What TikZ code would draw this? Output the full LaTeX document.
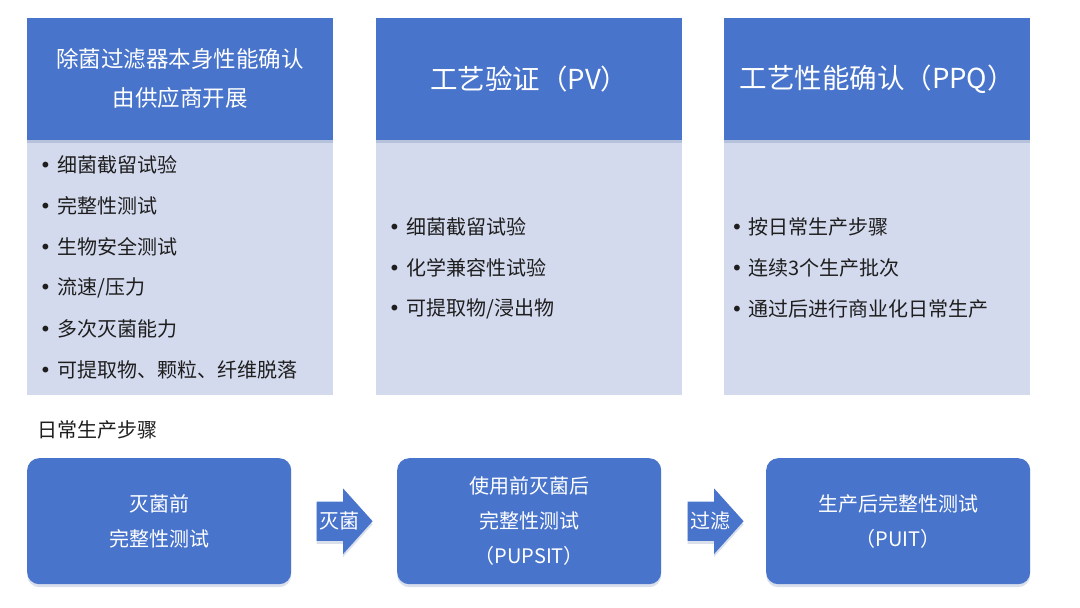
\documentclass[tikz,border=0pt]{standalone}
\usepackage{fontspec}
\setmainfont{Noto Sans CJK SC}
\newfontfamily\symfont{DejaVu Sans}
\usetikzlibrary{positioning, shapes.arrows, shadows, calc}
\definecolor{hdrblue}{HTML}{4874CB}
\definecolor{panelblue}{HTML}{D4DAEE}
\definecolor{itemgray}{HTML}{1E1E1E}
\tikzset{
x=1pt, y=-1pt, % one unit is one pixel of the reference
soft shadow/.style={drop shadow={shadow xshift=0pt, shadow yshift=-3pt, opacity=0.18, fill=hdrblue!70!black}},
header/.style={fill=hdrblue, text=white, minimum width=306pt, minimum height=122pt, inner sep=0pt, align=center, font=\fontsize{27.5}{39}\selectfont, soft shadow},
panel/.style={fill=panelblue, minimum width=306pt, minimum height=255pt, inner sep=0pt, anchor=north west},
item/.style={anchor=west, text=itemgray, inner sep=0pt, font=\fontsize{20}{22}\selectfont},
stepbox/.style={fill=hdrblue, text=white, rounded corners=12pt, minimum width=264pt, minimum height=126pt, inner sep=0pt, align=center, anchor=north west, font=\fontsize{20}{35}\selectfont, soft shadow},
flow/.style={single arrow, fill=hdrblue, minimum height=56pt, minimum width=65pt, single arrow head extend=13pt, single arrow tip angle=96, text height=14.5pt, text depth=4.5pt, inner ysep=10pt, inner xsep=1pt, soft shadow},
flowtext/.style={label={[xshift=3.5pt, text=white, font=\fontsize{20}{22}\selectfont]center:#1}},
}
\newcommand{\bul}{\makebox[17.5pt][l]{\symfont •}}

\begin{document}
\begin{tikzpicture}
  \useasboundingbox (0,0) rectangle (1080,608);

  % three columns
  \node[panel] (supplier) at (27,140) {};
  \node[panel] (pv) at (376,140) {};
  \node[panel] (ppq) at (724,140) {};

  \node[header, above=0pt of supplier, font=\fontsize{22.5}{39}\selectfont] (supplierhdr) {除菌过滤器本身性能确认\\由供应商开展};
  \node[header, above=0pt of pv] (pvhdr) {工艺验证（PV）};
  \node[header, above=0pt of ppq] (ppqhdr) {工艺性能确认（PPQ）};

  \foreach \t [count=\i] in {细菌截留试验, 完整性测试, 生物安全测试, 流速/压力, 多次灭菌能力, 可提取物、颗粒、纤维脱落}
    \node[item] (supplier\i) at (39.5,124+41*\i) {\bul\t};
  \foreach \t [count=\i] in {细菌截留试验, 化学兼容性试验, 可提取物/浸出物}
    \node[item] (pv\i) at (388.5,186+41*\i) {\bul\t};
  \foreach \t [count=\i] in {按日常生产步骤, 连续3个生产批次, 通过后进行商业化日常生产}
    \node[item] (ppq\i) at (731,186+41*\i) {\bul\t};

  % daily production
  \node[item] (daily) at (37,430) {日常生产步骤};

  \node[stepbox] (pre) at (27,458) {灭菌前\\完整性测试};
  \node[stepbox] (pupsit) at (397,458) {使用前灭菌后\\完整性测试\\（PUPSIT）};
  \node[stepbox] (puit) at (766,458) {生产后完整性测试\\（PUIT）};

  \node[flow, flowtext=灭菌, right=25pt of pre] (sterilize) {};
  \node[flow, flowtext=过滤, right=26pt of pupsit] (filtrate) {};
\end{tikzpicture}
\end{document}
